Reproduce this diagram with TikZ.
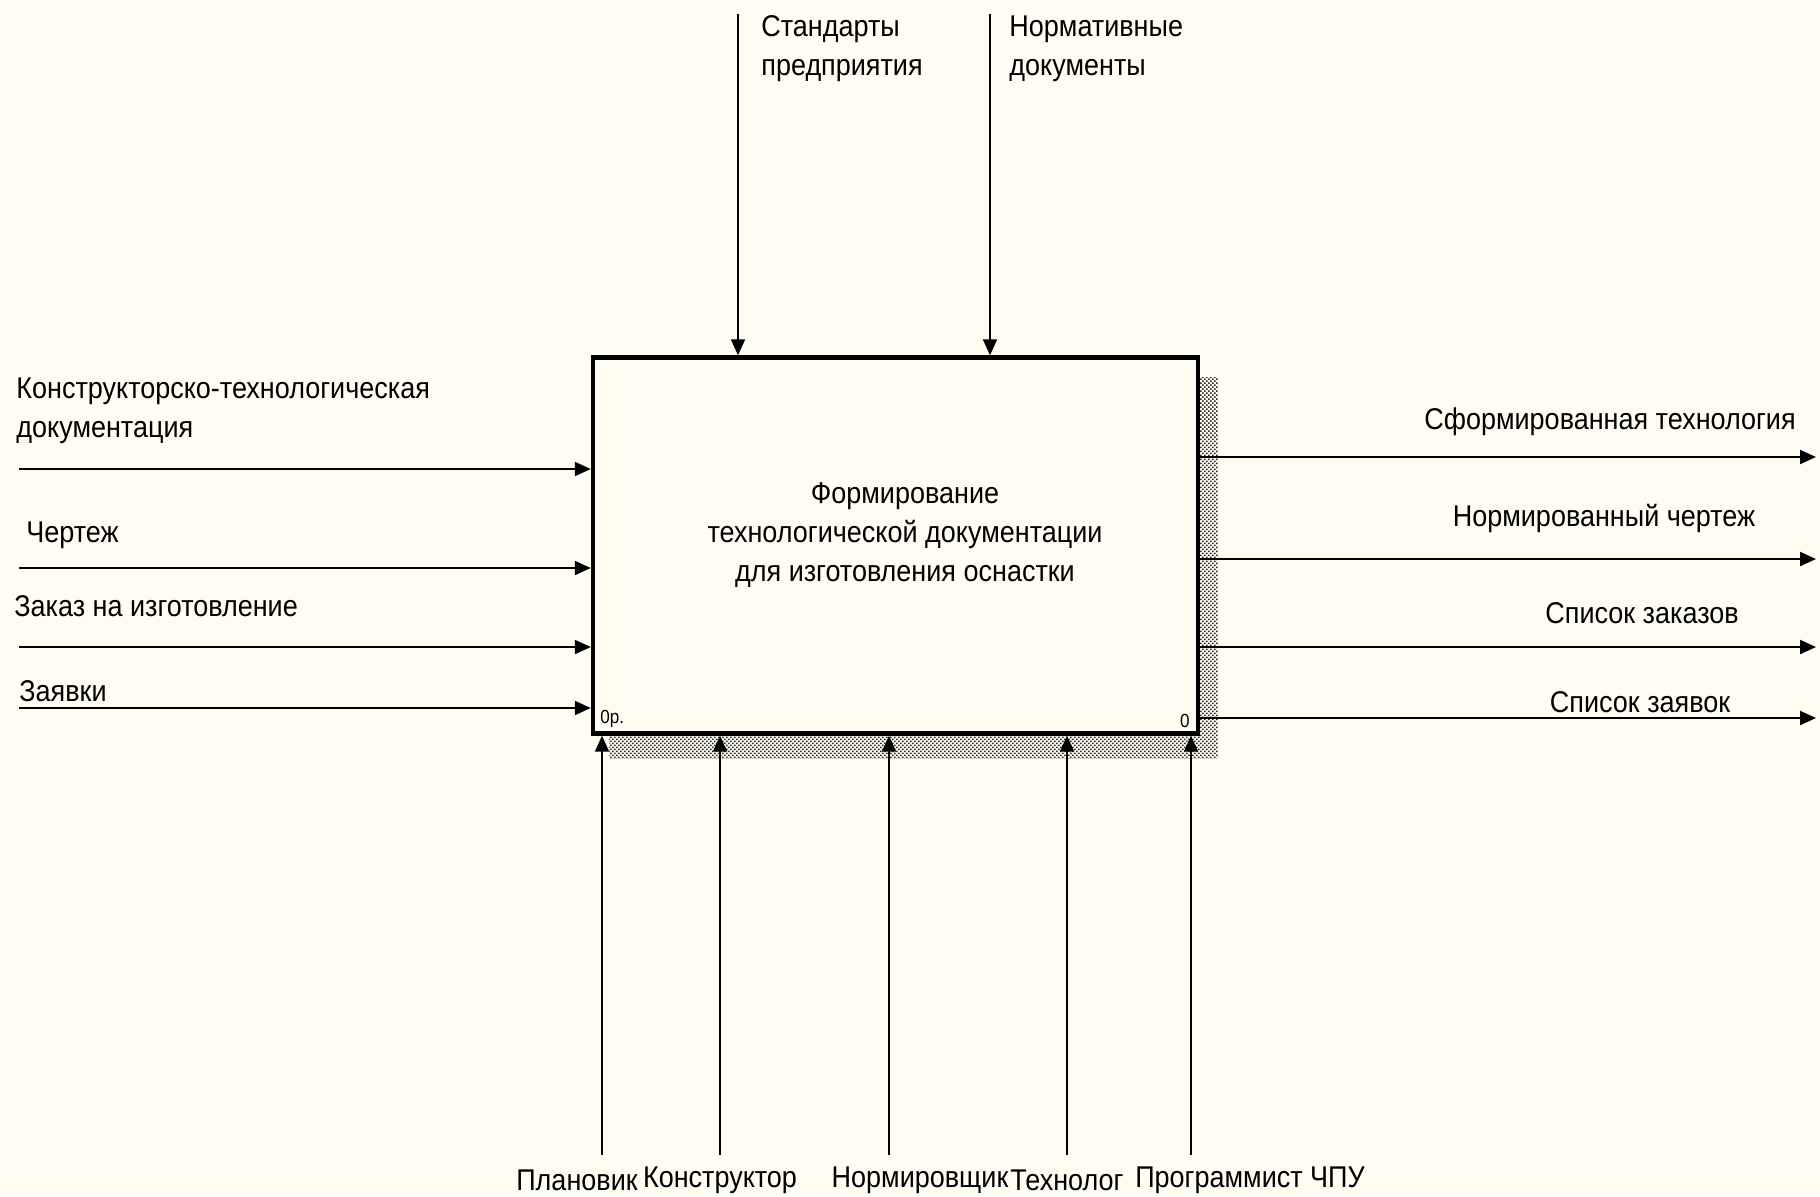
\documentclass[tikz,border=0pt]{standalone}
\usepackage{fontspec}
\setmainfont{Liberation Sans}[FakeStretch=0.9]
\usetikzlibrary{arrows.meta,patterns,positioning}
\definecolor{paper}{RGB}{255,252,242}
\pgfdeclarepatternformonly{shadowdots}{\pgfqpoint{-0.5pt}{-0.5pt}}{\pgfqpoint{2.5pt}{2.5pt}}{\pgfqpoint{2pt}{2pt}}{
  \pgfpathrectangle{\pgfqpoint{0pt}{0pt}}{\pgfqpoint{0.75pt}{0.75pt}}
  \pgfpathrectangle{\pgfqpoint{1pt}{1pt}}{\pgfqpoint{0.75pt}{0.75pt}}
  \pgfusepath{fill}}
\tikzset{
  flow/.style={line width=1pt,-{Triangle[length=8pt,width=7pt]}},
  lbl/.style={inner sep=0pt,font=\fontsize{15}{19.5}\selectfont},
  tag/.style={inner sep=0pt,font=\fontsize{9.5}{10}\selectfont},
  func/.style={draw,line width=2.2pt,fill=paper,minimum width=302.5pt,minimum height=188pt,inner sep=0pt},
}
\begin{document}
\begin{tikzpicture}[x=0.5pt,y=-0.5pt]
  \useasboundingbox[fill=paper] (0,0) rectangle (1820,1196);
  % shadow behind the activity box
  \fill[pattern=shadowdots, pattern color=black!85] (609,377) rectangle (1218,758);
  \node [func] (fn) at (895.5,545.5) {};
  \node [lbl, align=center] (fntext) at (905,535)
    {Формирование\\технологической документации\\для изготовления оснастки};
  \node [tag, anchor=south west] (fnnum) at (600,728) {0р.};
  \node [tag, anchor=south east] (fnnode) at (1190,728) {0};
  % controls
  \coordinate (c1) at (738,14);
  \coordinate (c2) at (990,14);
  \draw [flow] (c1) -- (c1 |- fn.north);
  \draw [flow] (c2) -- (c2 |- fn.north);
  \node [lbl, align=left, anchor=west] (c1text) at (761,49) {Стандарты\\предприятия};
  \node [lbl, align=left, anchor=west] (c2text) at (1009,49) {Нормативные\\документы};
  % inputs
  \coordinate (i1) at (19,469);
  \coordinate (i2) at (19,568);
  \coordinate (i3) at (19,647);
  \coordinate (i4) at (19,708);
  \draw [flow] (i1) -- (i1 -| fn.west);
  \draw [flow] (i2) -- (i2 -| fn.west);
  \draw [flow] (i3) -- (i3 -| fn.west);
  \draw [flow] (i4) -- (i4 -| fn.west);
  \node [lbl, align=left, anchor=west] (i1text) at (16,411) {Конструкторско-технологическая\\документация};
  \node [lbl, anchor=west] (i2text) at (26,535) {Чертеж};
  \node [lbl, anchor=west] (i3text) at (14,606) {Заказ на изготовление};
  \node [lbl, anchor=west] (i4text) at (19,691) {Заявки};
  % outputs
  \coordinate (o1) at (1816,457);
  \coordinate (o2) at (1816,559);
  \coordinate (o3) at (1816,647);
  \coordinate (o4) at (1816,718);
  \draw [flow] (o1 -| fn.east) -- (o1);
  \draw [flow] (o2 -| fn.east) -- (o2);
  \draw [flow] (o3 -| fn.east) -- (o3);
  \draw [flow] (o4 -| fn.east) -- (o4);
  \node [lbl] (o1text) at (1610,422) {Сформированная технология};
  \node [lbl] (o2text) at (1604,518) {Нормированный чертеж};
  \node [lbl] (o3text) at (1642,613) {Список заказов};
  \node [lbl] (o4text) at (1640,702) {Список заявок};
  % mechanisms
  \coordinate (m1) at (602,1155);
  \coordinate (m2) at (720,1155);
  \coordinate (m3) at (889,1155);
  \coordinate (m4) at (1067,1155);
  \coordinate (m5) at (1191,1155);
  \draw [flow] (m1) -- (m1 |- fn.south);
  \draw [flow] (m2) -- (m2 |- fn.south);
  \draw [flow] (m3) -- (m3 |- fn.south);
  \draw [flow] (m4) -- (m4 |- fn.south);
  \draw [flow] (m5) -- (m5 |- fn.south);
  \node [lbl] (m1text) at (577,1180) {Плановик};
  \node [lbl] (m2text) at (720,1180) {Конструктор};
  \node [lbl] (m3text) at (920,1180) {Нормировщик};
  \node [lbl] (m4text) at (1067,1180) {Технолог};
  \node [lbl] (m5text) at (1250,1180) {Программист ЧПУ};
\end{tikzpicture}
\end{document}
